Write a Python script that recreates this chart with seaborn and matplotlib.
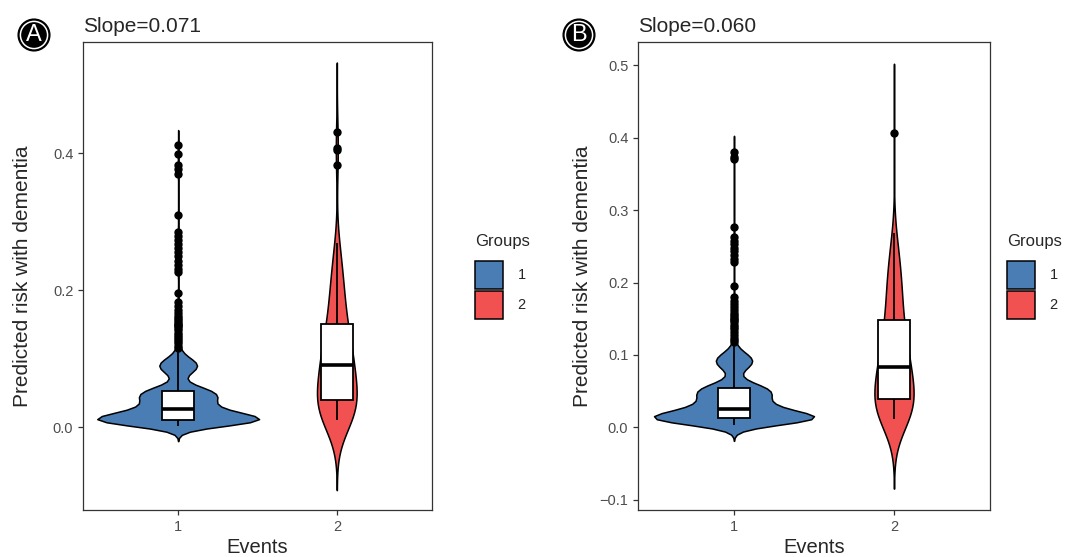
import numpy as np
import pandas as pd
import matplotlib.pyplot as plt
import seaborn as sns
from matplotlib.patches import Patch

# ---- data: value grid + number of patients at each value, plus outliers ----
# panel A, events = 1
a1_vals = [0.002, 0.005, 0.008, 0.011, 0.014, 0.017, 0.020, 0.024, 0.027, 0.032, 0.036,
           0.040, 0.044, 0.048, 0.052, 0.056, 0.060, 0.065, 0.070, 0.075, 0.080, 0.085,
           0.090, 0.095, 0.100, 0.106, 0.112]
a1_counts = [33, 66, 90, 90, 75, 60, 50, 45, 41, 38, 37,
             39, 43, 47, 44, 32, 18, 8, 5, 8, 18, 27,
             32, 27, 16, 8, 4]
a1_outliers = [0.116, 0.119, 0.122, 0.126, 0.129, 0.132, 0.135, 0.138, 0.141, 0.144,
               0.147, 0.149, 0.151, 0.153, 0.156, 0.159, 0.162, 0.166, 0.171, 0.176,
               0.182, 0.196, 0.226, 0.231, 0.237, 0.243, 0.249, 0.255, 0.261, 0.267,
               0.273, 0.279, 0.285, 0.309, 0.370, 0.376, 0.383, 0.398, 0.411]

# panel A, events = 2
a2_vals = [0.010, 0.015, 0.020, 0.026, 0.032, 0.040, 0.048, 0.056, 0.064, 0.072, 0.080,
           0.090, 0.098, 0.106, 0.114, 0.122, 0.130, 0.140, 0.150, 0.160, 0.170, 0.180,
           0.190, 0.200, 0.210, 0.220, 0.230, 0.240, 0.250, 0.260, 0.269]
a2_counts = [10, 8, 8, 7, 7, 7, 7, 7, 7, 6, 6,
             7, 6, 6, 6, 6, 5, 4, 4, 4, 4, 4,
             3, 3, 3, 3, 2, 2, 2, 2, 1]
a2_outliers = [0.383, 0.404, 0.408, 0.430]

# panel B, events = 1
b1_vals = [0.004, 0.007, 0.010, 0.013, 0.016, 0.019, 0.022, 0.026, 0.030, 0.034, 0.038,
           0.042, 0.046, 0.050, 0.054, 0.058, 0.062, 0.067, 0.072, 0.077, 0.082, 0.087,
           0.092, 0.097, 0.102, 0.107, 0.112]
b1_counts = [31, 64, 88, 90, 77, 61, 50, 48, 40, 37, 34,
             36, 42, 46, 42, 30, 17, 7, 5, 8, 17, 26,
             31, 26, 15, 7, 4]
b1_outliers = [0.118, 0.121, 0.124, 0.128, 0.132, 0.136, 0.139, 0.142, 0.145, 0.148,
               0.150, 0.152, 0.155, 0.158, 0.162, 0.166, 0.170, 0.175, 0.180, 0.195,
               0.228, 0.233, 0.238, 0.243, 0.248, 0.253, 0.258, 0.263, 0.277,
               0.370, 0.373, 0.380]

# panel B, events = 2
b2_vals = [0.0115, 0.016, 0.021, 0.026, 0.031, 0.039, 0.046, 0.054, 0.062, 0.069, 0.076,
           0.084, 0.093, 0.101, 0.110, 0.119, 0.128, 0.138, 0.148, 0.158, 0.168, 0.178,
           0.188, 0.198, 0.208, 0.218, 0.228, 0.238, 0.248, 0.258, 0.269]
b2_counts = [10, 8, 8, 7, 7, 7, 7, 7, 7, 6, 6,
             7, 6, 6, 6, 6, 5, 4, 4, 4, 4, 4,
             4, 3, 4, 3, 3, 2, 2, 2, 1]
b2_outliers = [0.406]

slopes = ['Slope=0.071', 'Slope=0.060']
panel_letters = ['A', 'B']
group_labels = ['1', '2']

blue = '#4A7DB4'
red = '#F25151'


def build(vals, counts, outliers):
    return np.concatenate([np.repeat(vals, counts), outliers])


sns.set_style('ticks')
plt.rcParams['font.family'] = ['Liberation Sans', 'DejaVu Sans']
plt.rcParams['axes.edgecolor'] = '#333333'
plt.rcParams['axes.linewidth'] = 0.9

fig = plt.figure(figsize=(10.69, 5.57), dpi=100)
axA = fig.add_axes([83 / 1069, 47 / 557, 349 / 1069, 468 / 557])
axB = fig.add_axes([638 / 1069, 47 / 557, 352 / 1069, 468 / 557])


def panel(ax, g1, g2, bws, widths, title, ylim, yticks, legend_x, ylabelpad):
    df = pd.DataFrame({
        'Events': ['1'] * len(g1) + ['2'] * len(g2),
        'risk': np.concatenate([g1, g2]),
    })
    for ev, col, bw, w in zip(['1', '2'], [blue, red], bws, widths):
        sub = df[df['Events'] == ev]
        sns.violinplot(data=sub, x='Events', y='risk', order=['1', '2'], color=col,
                       saturation=1, inner=None, cut=3, bw_method=bw / sub['risk'].std(),
                       width=w, density_norm='width', linecolor='black', linewidth=1.1, ax=ax)
    sns.boxplot(data=df, x='Events', y='risk', order=['1', '2'], width=0.2, color='white',
                saturation=1, linecolor='black', linewidth=1.3, showcaps=False, fliersize=5,
                flierprops=dict(marker='o', markerfacecolor='black', markeredgecolor='black'),
                medianprops=dict(linewidth=2.6), ax=ax)
    ax.set_xlim(-0.6, 1.6)
    ax.set_ylim(*ylim)
    ax.set_yticks(yticks)
    ax.set_yticklabels([f'{t:.1f}'.replace('-', '\u2212') for t in yticks])
    ax.tick_params(labelsize=10.5, labelcolor='#4D4D4D', color='#333333', length=3.5, width=0.9)
    ax.set_xlabel('Events', fontsize=14.5, labelpad=3)
    ax.set_ylabel('Predicted risk with dementia', fontsize=15, labelpad=ylabelpad)
    ax.set_title(title, loc='left', fontsize=15, pad=7)
    handles = [Patch(facecolor=blue, edgecolor='black', linewidth=1.1),
               Patch(facecolor=red, edgecolor='black', linewidth=1.1)]
    ax.legend(handles, group_labels, loc='upper left',
              bbox_to_anchor=(legend_x, 0.532), frameon=False, fontsize=10.5,
              handlelength=1.92, handleheight=2.58, labelspacing=0.12,
              handletextpad=1.0, borderpad=0, borderaxespad=0)
    ax.text(legend_x, 0.573, 'Groups', transform=ax.transAxes, ha='left', va='center',
            fontsize=12)


panel(axA, build(a1_vals, a1_counts, a1_outliers), build(a2_vals, a2_counts, a2_outliers),
      (0.0075, 0.034), (1.02, 0.25), slopes[0], (-0.121, 0.562), [0.0, 0.2, 0.4], 1.123, 15)
panel(axB, build(b1_vals, b1_counts, b1_outliers), build(b2_vals, b2_counts, b2_outliers),
      (0.0075, 0.032), (1.0, 0.245), slopes[1], (-0.114, 0.532),
      [-0.1, 0.0, 0.1, 0.2, 0.3, 0.4, 0.5], 1.048, 5)

# circled panel letters
for letter, xc in zip(panel_letters, [34 / 1069, 579 / 1069]):
    fig.text(xc, 1 - 35 / 557, letter, ha='center', va='center', color='white', fontsize=17,
             bbox=dict(boxstyle='circle,pad=0.2', fc='black', ec='black', lw=1.2))
    fig.text(xc, 1 - 35 / 557, letter, ha='center', va='center', color='white', fontsize=17,
             bbox=dict(boxstyle='circle,pad=0.11', fc='black', ec='white', lw=1.1))

fig.savefig('out.png', dpi=100)
